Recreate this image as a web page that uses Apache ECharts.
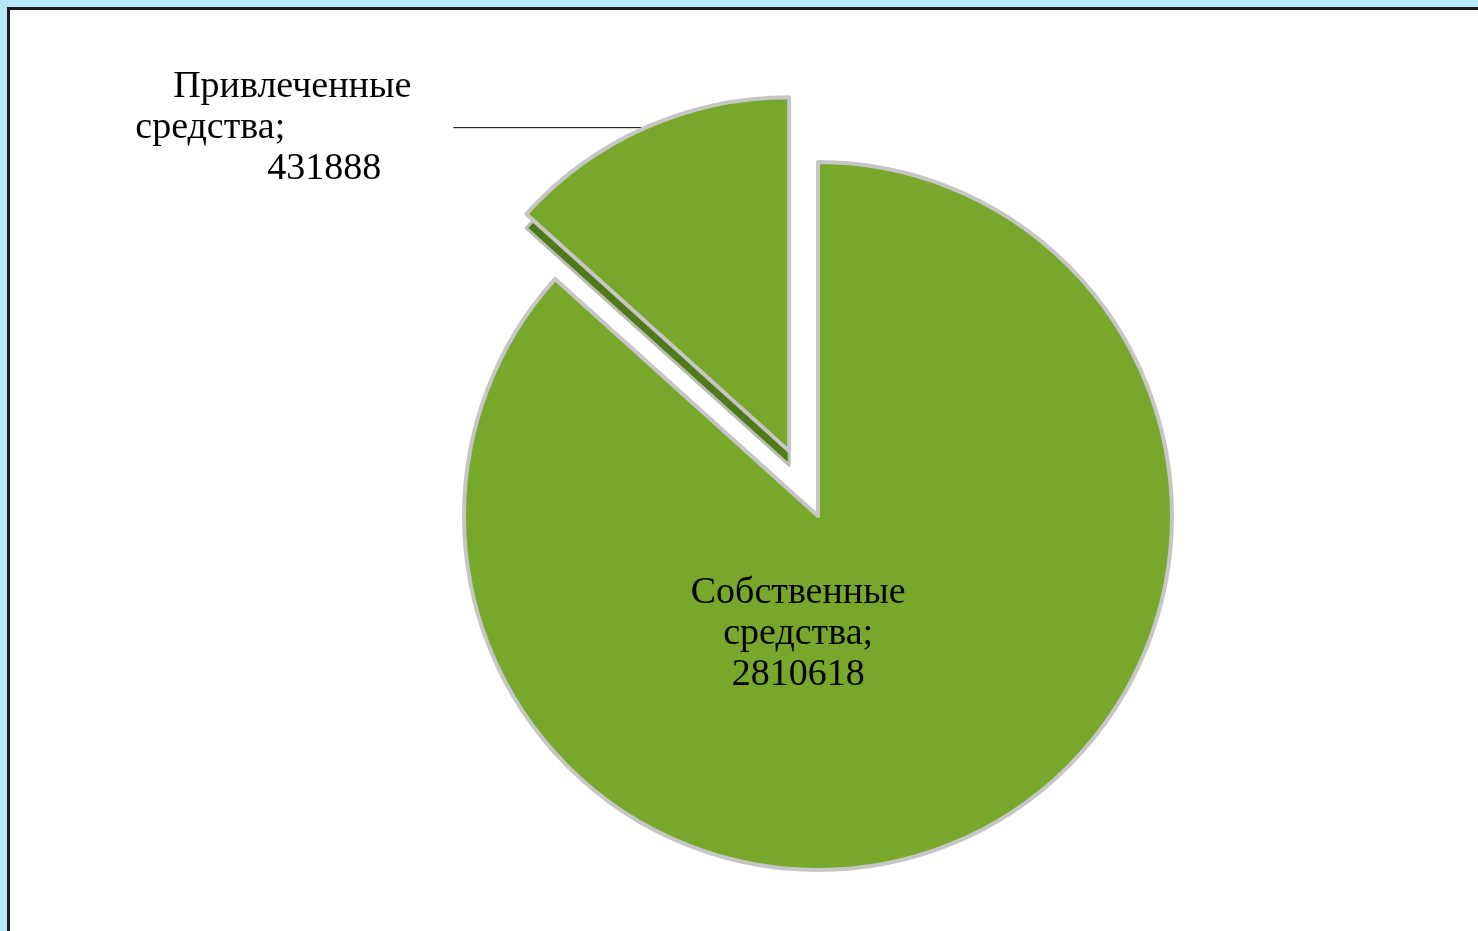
<!DOCTYPE html>
<html>
<head>
<meta charset="utf-8">
<script src="https://cdn.jsdelivr.net/npm/echarts@6/dist/echarts.min.js"></script>
<style>
  html, body { margin: 0; padding: 0; background: #b8e8f8; overflow: hidden; }
  .panel {
    position: absolute; left: 7px; top: 7px;
    width: 1500px; height: 960px;
    background: #fff; border: 3px solid #1c1c1c;
  }
  #chart { position: absolute; left: 0; top: 0; width: 1478px; height: 931px; }
</style>
</head>
<body>
<div class="panel"></div>
<div id="chart"></div>
<script>
// данные
const categories = ["Собственные средства", "Привлеченные средства"];
const values = [2810618, 431888];

const green = "#77a82b";
const darkGreen = "#4f7a1a";

let chart = echarts.init(document.getElementById("chart"));

let pieData = categories.map((name, i) => {
  return { name: name, value: values[i], selected: i === 1 };
});

// копия для "толщины" выдвинутого сектора
let edgeData = categories.map((name, i) => {
  return {
    name: name,
    value: values[i],
    selected: i === 1,
    itemStyle: i === 1 ? { color: darkGreen, borderColor: "#b9bdb4" } : { color: "rgba(0,0,0,0)", borderWidth: 0 },
  };
});

let fontBase = { fontFamily: "Liberation Serif", fontSize: 38, lineHeight: 41, color: "#000" };

let option = {
  animation: false,
  series: [
    {
      type: "pie",
      z: 1,
      silent: true,
      center: [818, 530],
      radius: 354,
      startAngle: 90,
      selectedMode: "single",
      selectedOffset: 71,
      label: { show: false },
      labelLine: { show: false },
      emphasis: { disabled: true },
      itemStyle: { borderWidth: 3, borderColor: "#b9bdb4" },
      data: edgeData,
    },
    {
      type: "pie",
      z: 2,
      center: [818, 516],
      radius: 354,
      startAngle: 90,
      selectedMode: "single",
      selectedOffset: 71,
      emphasis: { disabled: true },
      itemStyle: {
        color: green,
        borderWidth: 4,
        borderColor: "#c6c6c6",
      },
      label: Object.assign({ distanceToLabelLine: 42 }, fontBase),
      labelLine: {
        show: true,
        length: 0,
        length2: 192,
        lineStyle: { color: "#000", width: 1 },
      },
      labelLayout: (params) => {
        if (params.dataIndex === 0) {
          return { dx: -93, dy: -46 };
        }
      },
      data: pieData.map((d, i) => {
        if (i === 0) {
          d.label = {
            position: "inside",
            align: "center",
            formatter: (p) => p.name.replace(" ", "\n") + ";\n" + p.value,
          };
          d.labelLine = { show: false };
        } else {
          d.label = {
            position: "outside",
            formatter: (p) => {
              let parts = p.name.split(" ");
              return "{a|" + parts[0] + "}\n{b|" + parts[1] + ";}\n{c|" + p.value + "}";
            },
            rich: {
              a: Object.assign({ width: 276, align: "right" }, fontBase),
              b: Object.assign({ width: 276, align: "left" }, fontBase),
              c: Object.assign({ width: 246, align: "right", padding: [0, 30, 0, 0] }, fontBase),
            },
          };
        }
        return d;
      }),
    },
  ],
};

chart.setOption(option);

window.addEventListener("resize", () => chart.resize());
</script>
</body>
</html>
